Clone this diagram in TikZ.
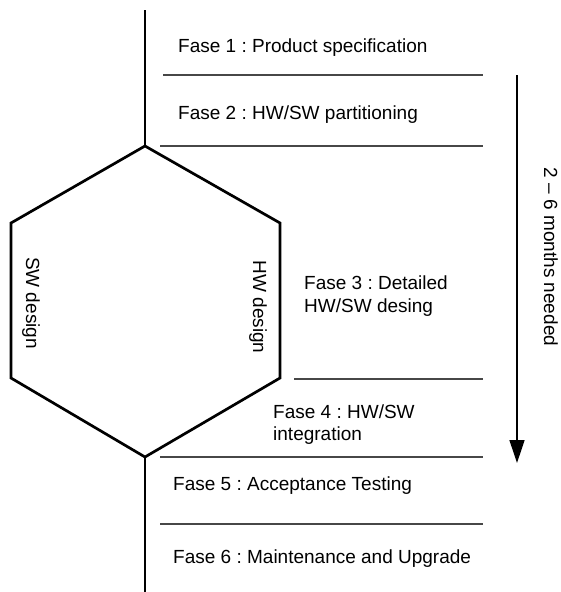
\documentclass[tikz,border=0pt]{standalone}
\usepackage{fontspec}
\setmainfont{Liberation Sans}
\usetikzlibrary{arrows.meta}
\frenchspacing
\begin{document}
\begin{tikzpicture}[x=1pt,y=-1pt,
  every node/.style={inner sep=0pt,font=\fontsize{19}{22}\selectfont},
  lbl/.style={anchor=base west},
  rot/.style={rotate=-90,anchor=center},
  sepline/.style={draw=black!72,line width=1.2pt},
  thick line/.style={line width=2.7pt,line join=miter}
]
\useasboundingbox (0,0) rectangle (561,592);
% spine and hexagon
\coordinate (top) at (145,10);
\coordinate (bot) at (145,592);
\coordinate (ht) at (145,146);
\coordinate (hul) at (11,223);
\coordinate (hll) at (11,378);
\coordinate (hb) at (145,457);
\coordinate (hlr) at (280,378);
\coordinate (hur) at (280,223);
\draw[thick line] (top) -- (ht);
\draw[thick line] (hb) -- (bot);
\draw[thick line] (ht) -- (hul) -- (hll) -- (hb) -- (hlr) -- (hur) -- cycle;
% separator lines
\coordinate (l1a) at (163,75); \coordinate (l1b) at (483,75);
\coordinate (l2a) at (160,146); \coordinate (l2b) at (483,146);
\coordinate (l3a) at (294,379); \coordinate (l3b) at (483,379);
\coordinate (l4a) at (160,457); \coordinate (l4b) at (483,457);
\coordinate (l5a) at (160,524); \coordinate (l5b) at (483,524);
\draw[sepline] (l1a) -- (l1b);
\draw[sepline] (l2a) -- (l2b);
\draw[sepline] (l3a) -- (l3b);
\draw[sepline] (l4a) -- (l4b);
\draw[sepline] (l5a) -- (l5b);
% labels
\node[lbl] (f1) at (178,52) {Fase 1 : Product specification};
\node[lbl] (f2) at (178,119) {Fase 2 : HW/SW partitioning};
\node[lbl] (f3a) at (304,289) {Fase 3 : Detailed};
\node[lbl] (f3b) at (304,312) {HW/SW desing};
\node[lbl] (f4a) at (273,418) {Fase 4 : HW/SW};
\node[lbl] (f4b) at (273,440) {integration};
\node[lbl] (f5) at (173,490) {Fase 5 : Acceptance Testing};
\node[lbl] (f6) at (173,563) {Fase 6 : Maintenance and Upgrade};
\node[rot] (sw) at (31,303) {SW design};
\node[rot] (hw) at (258,307) {HW design};
% duration arrow
\coordinate (as) at (517,75);
\coordinate (ae) at (517,463);
\draw[line width=1.3pt,-{Triangle[width=15pt,length=23pt]}] (as) -- (ae);
\node[rot] (dur) at (551,257) {2 – 6 months needed};
\end{tikzpicture}
\end{document}
